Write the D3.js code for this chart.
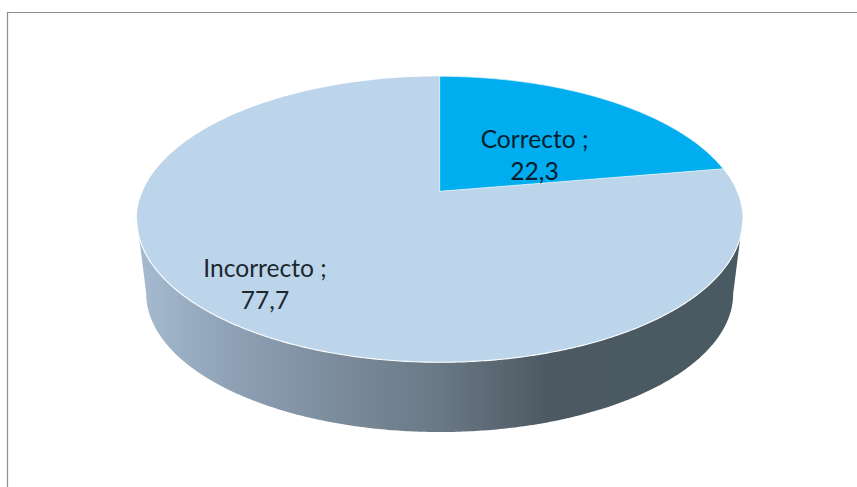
<!DOCTYPE html>
<html><head><meta charset="utf-8">
<script src="https://cdn.jsdelivr.net/npm/d3@7"></script>
<style>html,body{margin:0;padding:0;background:#fff;overflow:hidden}svg{display:block}</style>
</head><body><svg id="c" width="857" height="487"></svg>
<script>
const categories = ["Correcto", "Incorrecto"];
const values = [22.3, 77.7];
const valueLabels = ["22,3", "77,7"];
const sliceColors = ["#00aeef", "#bcd5ea"];
const wallStops = [[0,"#a6bbd1"],[0.17,"#8c9fb3"],[0.5,"#6a7885"],[0.68,"#4c5962"],[1,"#4a5a62"]];

const svg = d3.select("#c");
const W = 857, H = 487;
svg.append("rect").attr("width",W).attr("height",H).attr("fill","#fff");

// Perspective tilt of the unit disc
const k = 0.1958;
const cx = 439.7;
const xTop = d3.scaleLinear().domain([-1,1]).range([cx-297.1,cx+297.1]);
const yTop = d3.scaleLinear().domain([-1,1]).range([191.3-137.5,191.3+137.5]);
const xBot = d3.scaleLinear().domain([-1,1]).range([cx-287.8,cx+287.8]);
const yBot = d3.scaleLinear().domain([-1,1]).range([266.4-133.2,266.4+133.2]);
const proj = (a,sx,sy)=>{const x=Math.sin(a),y=-Math.cos(a),d=1-k*y;return [sx(x/d),sy(y/d)];};
const topRim = a=>proj(a,xTop,yTop), botRim = a=>proj(a,xBot,yBot);
const line = d3.line();

const defs = svg.append("defs");
const grad = defs.append("linearGradient").attr("id","wall").attr("gradientUnits","userSpaceOnUse")
  .attr("x1",137).attr("x2",743).attr("y1",0).attr("y2",0);
wallStops.forEach(s=>grad.append("stop").attr("offset",s[0]).attr("stop-color",s[1]));

// side wall: from the widest right point around the front to the widest left point
const aw = Math.PI/2 + Math.asin(k);
const step = Math.PI/360;
const front = d3.range(aw, 2*Math.PI-aw+step/2, step);
const wall = [topRim(aw), ...front.map(botRim), topRim(2*Math.PI-aw)];
svg.append("path").attr("d",line(wall)+"Z").attr("fill","url(#wall)");

// top face
const arcs = d3.pie().value(d=>d).sort(null)(values);
const c0 = [xTop(0),yTop(0)];
arcs.forEach((s,i)=>{
  const pts = d3.range(s.startAngle,s.endAngle,step).concat([s.endAngle]).map(topRim);
  svg.append("path").attr("d",line([c0,...pts])+"Z").attr("fill",sliceColors[i]);
});
// light edge around the blue slice
const s0 = arcs[0];
svg.append("path").attr("d",line([c0,...d3.range(s0.startAngle,s0.endAngle,step).concat([s0.endAngle]).map(topRim)])+"Z")
  .attr("fill","none").attr("stroke","#e8f3fa").attr("stroke-width",0.7);
// light rim between top face and wall
const rim = front.map(topRim);
svg.append("path").attr("d",line(rim)).attr("fill","none").attr("stroke","#ffffff").attr("stroke-width",1.1);

// labels
const labelPos = [[534.5,148,180],[265,277,309]];
categories.forEach((c,i)=>{
  const g = svg.append("g").attr("font-family","Lato, Carlito, sans-serif").attr("font-size",24.6)
    .attr("fill",i===0?"#06202f":"#1c2730").attr("text-anchor","middle");
  g.append("text").attr("x",labelPos[i][0]).attr("y",labelPos[i][1]).text(c+" ;");
  g.append("text").attr("x",labelPos[i][0]).attr("y",labelPos[i][2]).text(valueLabels[i]);
});

// chart frame: top and left edges visible
svg.append("path").attr("d",line([[7.5,H],[7.5,12.5],[W,12.5]])).attr("fill","none").attr("stroke","#8e8e8e").attr("stroke-width",1.2);
</script></body></html>
